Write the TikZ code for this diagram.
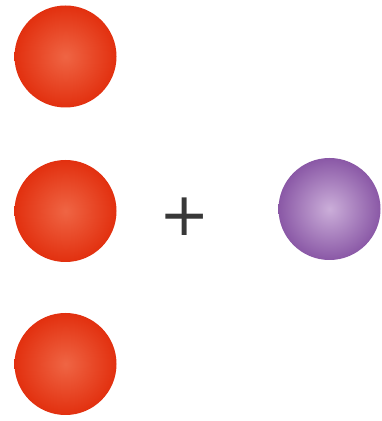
\documentclass[tikz,border=0pt]{standalone}
\usepackage{fontspec}
\newfontfamily\plusfont{DejaVu Sans}
\definecolor{redin}{HTML}{EF6544}
\definecolor{redout}{HTML}{E2300F}
\definecolor{purin}{HTML}{CBAED9}
\definecolor{purout}{HTML}{8A58A6}
\definecolor{plusgray}{HTML}{383838}
\tikzset{
  redball/.style={circle, minimum size=102pt, inner sep=0pt, shading=radial, inner color=redin, outer color=redout},
  purball/.style={circle, minimum size=102pt, inner sep=0pt, shading=radial, inner color=purin, outer color=purout},
  plussign/.style={inner sep=0pt, text=plusgray, font=\plusfont\fontsize{60}{60}\selectfont}
}
\begin{document}
\begin{tikzpicture}[x=1pt,y=1pt]
\useasboundingbox (0,0) rectangle (382,421);
\fill[white] (0,0) rectangle (382,421);
\node[redball] (r1) at (65.5,364.5) {};
\node[redball] (r2) at (65.5,210) {};
\node[redball] (r3) at (65.5,57) {};
\node[plussign] (plus) at (185,204) {+};
\node[purball] (p) at (329.5,212) {};
\end{tikzpicture}
\end{document}
